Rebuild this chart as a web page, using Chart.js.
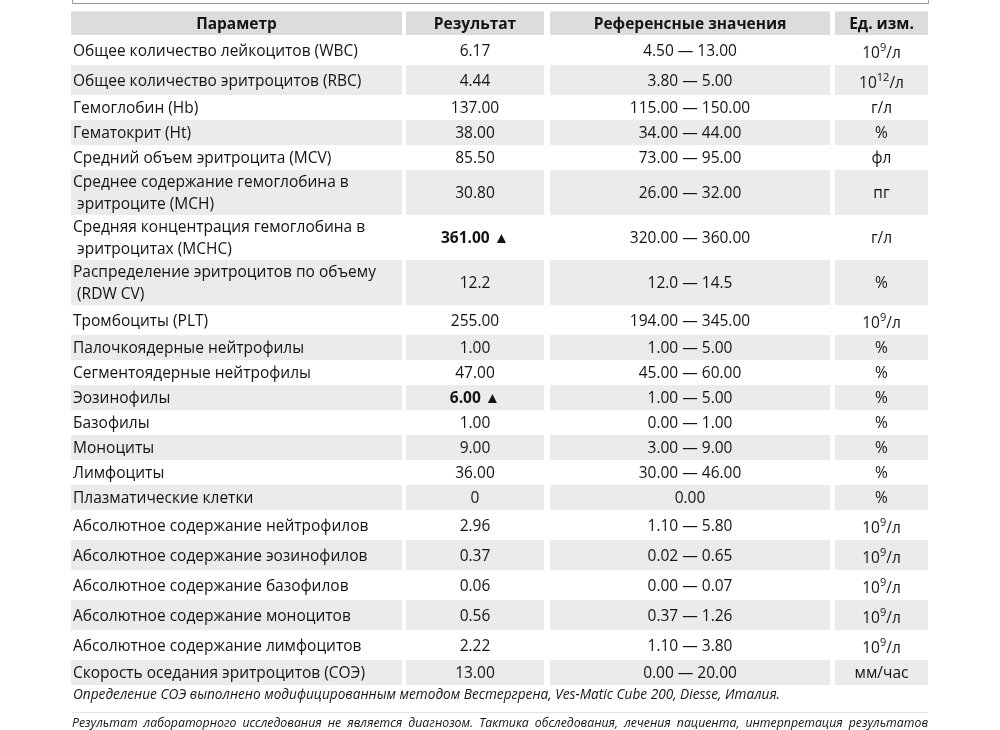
<!DOCTYPE html>
<html><head><meta charset="utf-8">
<script src="https://cdn.jsdelivr.net/npm/chart.js@4.4.0/dist/chart.umd.min.js"></script>
<style>html,body{margin:0;padding:0;background:#fff;}canvas{display:block;}</style>
</head><body>
<canvas id="c" width="1000" height="730"></canvas>
<script>
// ---------- DATA ----------
const headers = ["Параметр", "Результат", "Референсные значения", "Ед. изм."];
const params = [
  "Общее количество лейкоцитов (WBC)",
  "Общее количество эритроцитов (RBC)",
  "Гемоглобин (Hb)",
  "Гематокрит (Ht)",
  "Средний объем эритроцита (MCV)",
  "Среднее содержание гемоглобина в\n эритроците (MCH)",
  "Средняя концентрация гемоглобина в\n эритроцитах (MCHC)",
  "Распределение эритроцитов по объему\n (RDW CV)",
  "Тромбоциты (PLT)",
  "Палочкоядерные нейтрофилы",
  "Сегментоядерные нейтрофилы",
  "Эозинофилы",
  "Базофилы",
  "Моноциты",
  "Лимфоциты",
  "Плазматические клетки",
  "Абсолютное содержание нейтрофилов",
  "Абсолютное содержание эозинофилов",
  "Абсолютное содержание базофилов",
  "Абсолютное содержание моноцитов",
  "Абсолютное содержание лимфоцитов",
  "Скорость оседания эритроцитов (СОЭ)"
];
const results = ["6.17","4.44","137.00","38.00","85.50","30.80","361.00","12.2","255.00","1.00","47.00","6.00","1.00","9.00","36.00","0","2.96","0.37","0.06","0.56","2.22","13.00"];
const aboveRange = [false,false,false,false,false,false,true,false,false,false,false,true,false,false,false,false,false,false,false,false,false,false];
const refLow  = ["4.50","3.80","115.00","34.00","73.00","26.00","320.00","12.0","194.00","1.00","45.00","1.00","0.00","3.00","30.00","0.00","1.10","0.02","0.00","0.37","1.10","0.00"];
const refHigh = ["13.00","5.00","150.00","44.00","95.00","32.00","360.00","14.5","345.00","5.00","60.00","5.00","1.00","9.00","46.00",null,"5.80","0.65","0.07","1.26","3.80","20.00"];
const units = ["10^9/л","10^12/л","г/л","%","фл","пг","г/л","%","10^9/л","%","%","%","%","%","%","%","10^9/л","10^9/л","10^9/л","10^9/л","10^9/л","мм/час"];
const noteText = "Определение СОЭ выполнено модифицированным методом Вестергрена, Ves-Matic Cube 200, Diesse, Италия.";
const disclaimerText = "Результат лабораторного исследования не является диагнозом. Тактика обследования, лечения пациента, интерпретация результатов";

// ---------- LAYOUT ----------
const FAMILY = '"Open Sans", "Noto Sans", sans-serif';
const COLS = [[71,402],[406,544],[550,830],[835,928]];
const HEADER_TOP = 11.5, HEADER_BOTTOM = 35;
const BASE_H = 25, SUP_H = 30, TWO_H = 45;
const TEXT = "#141414", STRIPE = "#ebebeb", HEAD_BG = "#dcdcdc";
const SIZE = 15.5;

const rows = [];
(function(){
  let y = HEADER_BOTTOM;
  params.forEach((p,i)=>{
    const h = p.includes("\n") ? TWO_H : (units[i].includes("^") ? SUP_H : BASE_H);
    rows.push({top:y, h, center:y + h/2});
    y += h;
  });
})();
const tableBottom = rows[rows.length-1].top + rows[rows.length-1].h;

// background cells as floating bars
const datasets = [];
datasets.push({
  data: COLS.map(c => ({x:[c[0],c[1]], y:(HEADER_TOP+HEADER_BOTTOM)/2})),
  backgroundColor: HEAD_BG, barThickness: HEADER_BOTTOM-HEADER_TOP, grouped:false, borderWidth:0, inflateAmount:0
});
rows.forEach((r,i)=>{
  if (i % 2 === 1) {
    datasets.push({
      data: COLS.map(c => ({x:[c[0],c[1]], y:r.center})),
      backgroundColor: STRIPE, barThickness: r.h, grouped:false, borderWidth:0, inflateAmount:0
    });
  }
});

function drawUnit(ctx, str, cx, baseY, size) {
  const m = str.match(/^(\d+)\^(\d+)(.*)$/);
  if (!m) { ctx.textAlign = "center"; ctx.fillText(str, cx, baseY); return; }
  const big = size + "px " + FAMILY, small = Math.round(size*0.68) + "px " + FAMILY;
  ctx.font = big; const w1 = ctx.measureText(m[1]).width, w3 = ctx.measureText(m[3]).width;
  ctx.font = small; const w2 = ctx.measureText(m[2]).width;
  let x = cx - (w1+w2+w3)/2;
  ctx.textAlign = "left";
  ctx.font = big; ctx.fillText(m[1], x, baseY); x += w1;
  ctx.font = small; ctx.fillText(m[2], x, baseY - size*0.45); x += w2;
  ctx.font = big; ctx.fillText(m[3], x, baseY);
}

const tablePlugin = {
  id: "tableText",
  afterDatasetsDraw(chart) {
    const ctx = chart.ctx, xs = chart.scales.x, ys = chart.scales.y;
    const X = v => xs.getPixelForValue(v), Y = v => ys.getPixelForValue(v);
    ctx.save();
    // top frame remnant
    ctx.strokeStyle = "#9a9a9a"; ctx.lineWidth = 1;
    ctx.beginPath();
    ctx.moveTo(X(72.5), Y(0)); ctx.lineTo(X(72.5), Y(3.5)); ctx.lineTo(X(928.5), Y(3.5)); ctx.lineTo(X(928.5), Y(0));
    ctx.stroke();

    ctx.fillStyle = TEXT; ctx.textBaseline = "alphabetic";
    // header
    ctx.font = "bold " + SIZE + "px " + FAMILY; ctx.textAlign = "center";
    headers.forEach((h,j)=> ctx.fillText(h, X((COLS[j][0]+COLS[j][1])/2), Y((HEADER_TOP+HEADER_BOTTOM)/2 + 5.5)));
    // rows
    rows.forEach((r,i)=>{
      const base = r.center + 5.5;
      ctx.font = SIZE + "px " + FAMILY; ctx.textAlign = "left";
      const lines = params[i].split("\n");
      if (lines.length === 1) ctx.fillText(lines[0], X(COLS[0][0]+2), Y(base));
      else { ctx.fillText(lines[0], X(COLS[0][0]+2), Y(base-11)); ctx.fillText(lines[1], X(COLS[0][0]+2), Y(base+11)); }
      ctx.textAlign = "center";
      const res = aboveRange[i] ? results[i] + " ▲" : results[i];
      ctx.font = (aboveRange[i] ? "bold " : "") + SIZE + "px " + FAMILY;
      ctx.fillText(res, X((COLS[1][0]+COLS[1][1])/2), Y(base));
      ctx.font = SIZE + "px " + FAMILY;
      const ref = refHigh[i] === null ? refLow[i] : refLow[i] + " — " + refHigh[i];
      ctx.fillText(ref, X((COLS[2][0]+COLS[2][1])/2), Y(base));
      drawUnit(ctx, units[i], X((COLS[3][0]+COLS[3][1])/2), Y(base + (units[i].includes("^") ? 2 : 0)), SIZE);
    });
    // note
    ctx.font = "italic 14px " + FAMILY; ctx.textAlign = "left";
    ctx.fillText(noteText, X(73), Y(tableBottom + 13.5), 707);
    // separator
    ctx.strokeStyle = "#e3e3e3"; ctx.beginPath(); ctx.moveTo(X(72), Y(712.5)); ctx.lineTo(X(928), Y(712.5)); ctx.stroke();
    // justified disclaimer
    ctx.font = "italic 13.5px " + FAMILY;
    const words = disclaimerText.split(" ");
    const ws = words.map(w => ctx.measureText(w).width);
    const total = ws.reduce((a,b)=>a+b,0);
    const avail = 928 - 72;
    const minGap = 6;
    const scale = total > avail - (words.length-1)*minGap ? (avail - (words.length-1)*minGap)/total : 1;
    const gap = (avail - total*scale)/(words.length-1);
    let x = 72;
    words.forEach((w,k)=>{ ctx.fillText(w, X(x), Y(726.5), ws[k]*scale); x += ws[k]*scale + gap; });
    ctx.restore();
  }
};

new Chart(document.getElementById("c"), {
  type: "bar",
  data: { labels: [], datasets },
  options: {
    indexAxis: "y", responsive: false, animation: false, events: [],
    layout: { padding: 0 },
    plugins: { legend: { display: false }, tooltip: { enabled: false } },
    scales: {
      x: { type: "linear", min: 0, max: 1000, display: false },
      y: { type: "linear", min: 0, max: 730, reverse: true, display: false, offset: false }
    }
  },
  plugins: [tablePlugin]
});
</script>
</body></html>
